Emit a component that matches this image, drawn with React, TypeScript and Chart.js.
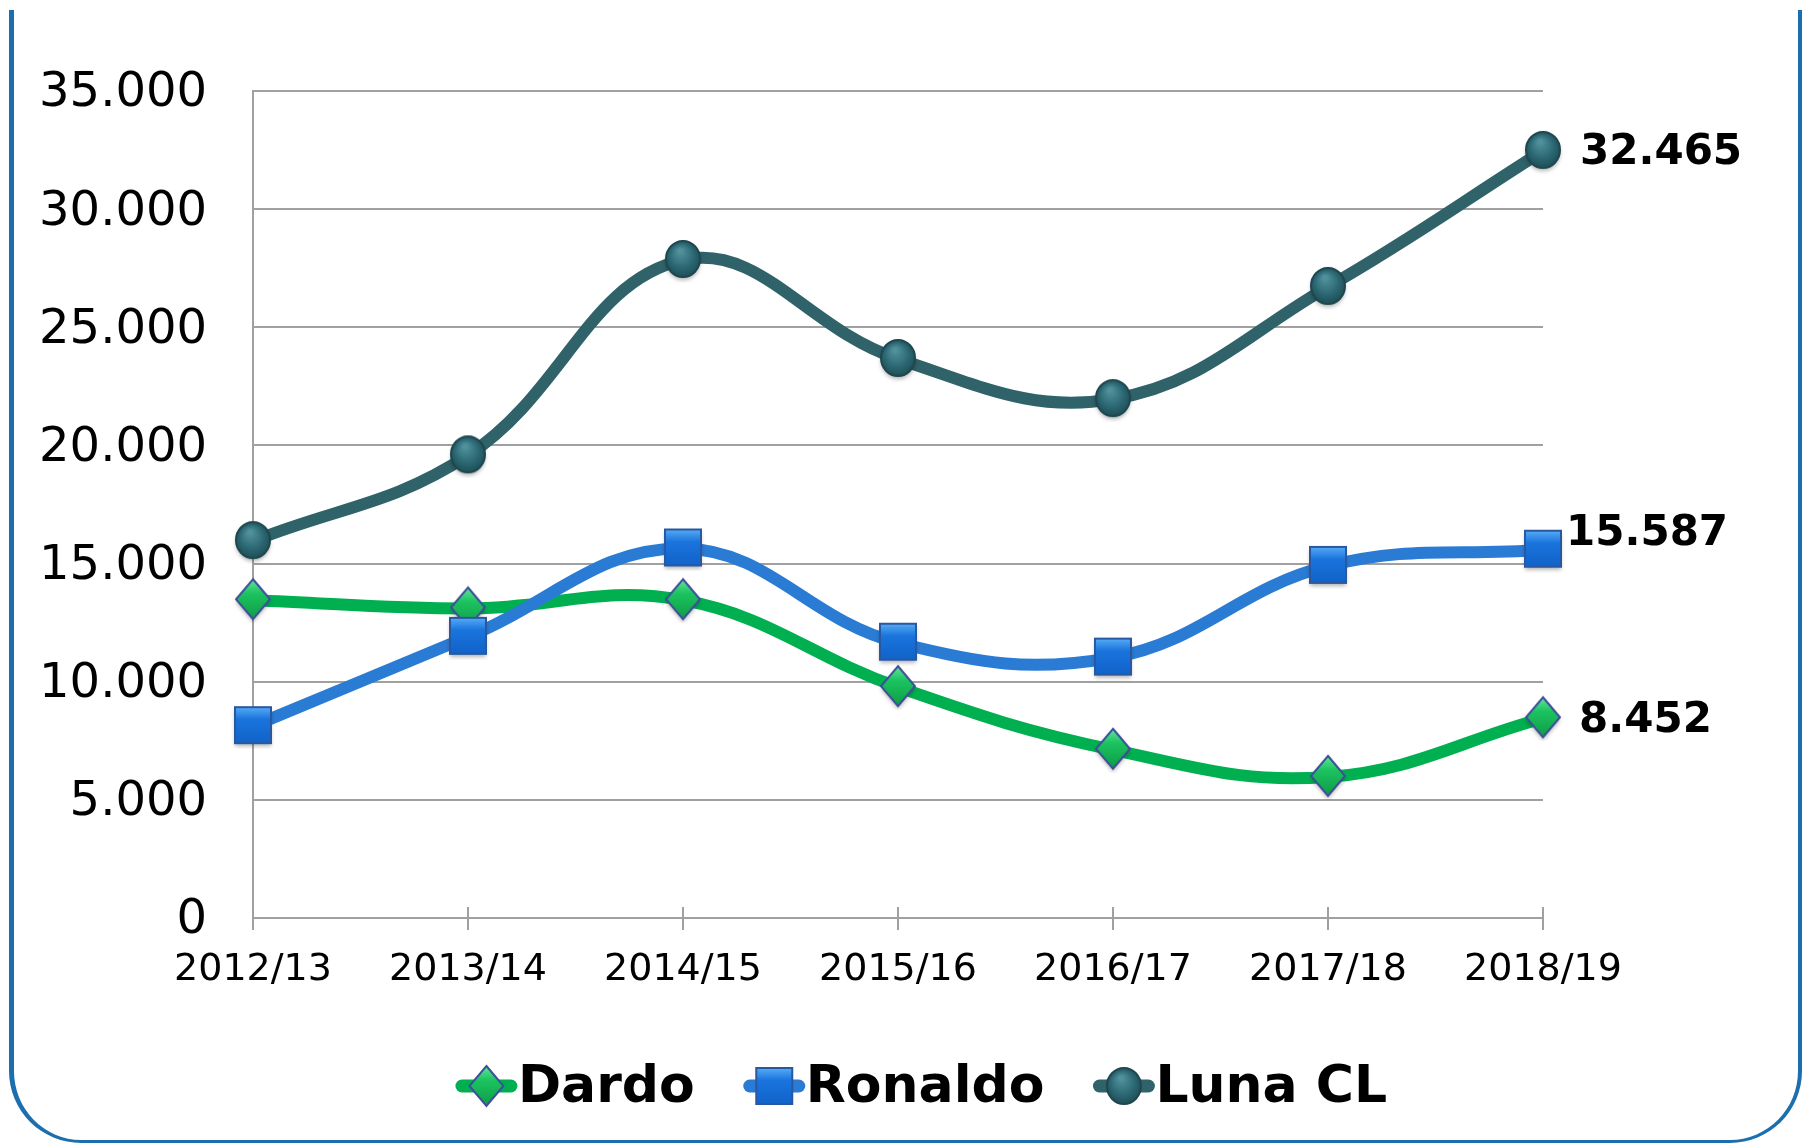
import React, { useEffect, useRef } from 'react';
import { Chart, registerables } from 'chart.js';

Chart.register(...registerables);

const categories = ['2012/13', '2013/14', '2014/15', '2015/16', '2016/17', '2017/18', '2018/19'];
const dardo = [13450, 13100, 13450, 9770, 7120, 5970, 8452];
const ronaldo = [8120, 11900, 15640, 11650, 11020, 14900, 15587];
const lunaCL = [15950, 19580, 27850, 23660, 21960, 26710, 32465];
const seriesNames = ['Dardo', 'Ronaldo', 'Luna CL'];
const yMin = 0;
const yMax = 35000;
const yStep = 5000;

const FONT = '"DejaVu Sans", Verdana, sans-serif';

const fmt = (v: number) => Math.round(v).toString().replace(/\B(?=(\d{3})+(?!\d))/g, '.');

const styles = [
  { line: '#00B050', top: '#5BE596', mid: '#1CC35F', bottom: '#0E9E48', border: '#3D4F9A', shape: 'diamond' },
  { line: '#2A7BD3', top: '#5AB0F7', mid: '#1A74DD', bottom: '#1062C8', border: '#2A58A0', shape: 'square' },
  { line: '#2F6269', top: '#4F909B', mid: '#2B6772', bottom: '#1E4C54', border: '#1F474F', shape: 'circle' },
];

function drawShape(ctx: CanvasRenderingContext2D, shape: string, x: number, y: number, s: any, shadow = true) {
  ctx.save();
  if (shape === 'circle') {
    const r = ctx.createRadialGradient(x - 3, y - 8, 2, x, y, 19);
    r.addColorStop(0, s.top);
    r.addColorStop(0.6, s.mid);
    r.addColorStop(1, s.bottom);
    ctx.fillStyle = r;
  } else {
    const g = ctx.createLinearGradient(x, y - 19, x, y + 19);
    g.addColorStop(0, s.top);
    g.addColorStop(0.35, s.mid);
    g.addColorStop(1, s.bottom);
    ctx.fillStyle = g;
  }
  ctx.strokeStyle = s.border;
  ctx.lineWidth = 2;
  if (shadow) {
    ctx.shadowColor = 'rgba(0,0,0,0.3)';
    ctx.shadowBlur = 4;
    ctx.shadowOffsetY = 3;
  }
  ctx.beginPath();
  if (shape === 'diamond') {
    ctx.moveTo(x, y - 20);
    ctx.lineTo(x + 17, y);
    ctx.lineTo(x, y + 20);
    ctx.lineTo(x - 17, y);
    ctx.closePath();
  } else if (shape === 'square') {
    ctx.rect(x - 18, y - 18, 36, 36);
  } else {
    ctx.ellipse(x, y, 17, 18, 0, 0, Math.PI * 2);
  }
  ctx.fill();
  ctx.shadowColor = 'transparent';
  ctx.stroke();
  ctx.restore();
}

const tickMarksPlugin = {
  id: 'tickMarks',
  beforeDatasetsDraw(chart: any) {
    const ctx = chart.ctx as CanvasRenderingContext2D;
    const xs = chart.scales.x;
    const ys = chart.scales.y;
    const y0 = ys.getPixelForValue(0);
    ctx.save();
    ctx.strokeStyle = '#A0A0A0';
    ctx.lineWidth = 2;
    categories.forEach((_, i) => {
      const x = xs.getPixelForValue(i);
      ctx.beginPath();
      ctx.moveTo(x, y0 - 11);
      ctx.lineTo(x, y0 + 12);
      ctx.stroke();
    });
    ctx.restore();
  },
};

const labelOffsets = [
  { dx: 36, dy: 3 },
  { dx: 23, dy: -16 },
  { dx: 37, dy: 2 },
];

const endLabelsPlugin = {
  id: 'endLabels',
  afterDatasetsDraw(chart: any) {
    const ctx = chart.ctx as CanvasRenderingContext2D;
    ctx.save();
    ctx.font = `bold 42px ${FONT}`;
    ctx.fillStyle = '#000';
    ctx.textAlign = 'left';
    ctx.textBaseline = 'middle';
    chart.data.datasets.forEach((ds: any, di: number) => {
      const meta = chart.getDatasetMeta(di);
      const last = meta.data[meta.data.length - 1];
      const v = ds.data[ds.data.length - 1];
      const o = labelOffsets[di];
      ctx.fillText(fmt(v), last.x + o.dx, last.y + o.dy);
    });
    ctx.restore();
  },
};

const legendPlugin = {
  id: 'customLegend',
  afterDraw(chart: any) {
    const ctx = chart.ctx as CanvasRenderingContext2D;
    ctx.save();
    ctx.font = `bold 52px ${FONT}`;
    ctx.textBaseline = 'middle';
    ctx.textAlign = 'left';
    const lineLen = 61;
    const gap = 50;
    const widths = seriesNames.map((n) => lineLen + ctx.measureText(n).width);
    const total = widths.reduce((a, b) => a + b, 0) + gap * (seriesNames.length - 1);
    let x = 921 - total / 2;
    const y = 1086;
    seriesNames.forEach((n, i) => {
      const s = styles[i];
      ctx.strokeStyle = s.line;
      ctx.lineWidth = 13;
      ctx.lineCap = 'round';
      ctx.beginPath();
      ctx.moveTo(x + 6, y);
      ctx.lineTo(x + lineLen - 6, y);
      ctx.stroke();
      drawShape(ctx, s.shape, x + lineLen / 2, y, s, false);
      ctx.fillStyle = '#000';
      ctx.fillText(n, x + lineLen + 1, y + 2);
      x += widths[i] + gap;
    });
    ctx.restore();
  },
};

function pointDrawer(s: any) {
  const c = document.createElement('canvas');
  c.width = 44;
  c.height = 46;
  const cx = c.getContext('2d')!;
  drawShape(cx, s.shape, 22, 22, s, true);
  return c;
}

export default function App() {
  const ref = useRef<HTMLCanvasElement>(null);

  useEffect(() => {
    const series = [dardo, ronaldo, lunaCL];
    const orders = [1, 0, 2];
    const chart = new Chart(ref.current!, {
      type: 'line',
      data: {
        labels: categories,
        datasets: series.map((d, i) => ({
          label: seriesNames[i],
          data: d,
          borderColor: styles[i].line,
          borderWidth: 12,
          tension: 0.4,
          fill: false,
          clip: false as any,
          order: orders[i],
          pointStyle: pointDrawer(styles[i]) as any,
          pointRadius: 18,
          pointHoverRadius: 18,
        })),
      },
      options: {
        responsive: false,
        animation: false,
        devicePixelRatio: 1,
        layout: { padding: { top: 91, right: 259, bottom: 0, left: 0 } },
        plugins: {
          legend: { display: false },
          tooltip: { enabled: false },
        },
        scales: {
          x: {
            offset: false,
            grid: { display: false },
            border: { display: true, color: '#A0A0A0', width: 2 },
            ticks: {
              color: '#000',
              font: { family: FONT, size: 38 },
              padding: 21,
              maxRotation: 0,
              autoSkip: false,
            },
            afterFit: (s: any) => {
              s.height = 226;
            },
          },
          y: {
            min: yMin,
            max: yMax,
            grid: { color: '#A0A0A0', lineWidth: 2, drawTicks: false },
            border: { display: true, color: '#A0A0A0', width: 2 },
            ticks: {
              stepSize: yStep,
              color: '#000',
              font: { family: FONT, size: 48 },
              padding: 46,
              labelOffset: 3,
              callback: (v: any) => fmt(Number(v)),
            },
            afterFit: (s: any) => {
              s.width = 253;
            },
          },
        },
      },
      plugins: [tickMarksPlugin, endLabelsPlugin, legendPlugin],
    });
    return () => chart.destroy();
  }, []);

  return (
    <div style={{ position: 'fixed', left: 0, top: 0, width: 1802, height: 1144, background: '#fff', overflow: 'hidden' }}>
      <div style={{ position: 'absolute', left: 0, top: 10, width: 1802, height: 1134, overflow: 'hidden' }}>
        <div
          style={{
            position: 'absolute',
            left: 9,
            top: -110,
            width: 1793,
            height: 1243,
            boxSizing: 'border-box',
            borderStyle: 'solid',
            borderColor: '#1C6FAE',
            borderWidth: '4px 4px 3px 5px',
            borderRadius: 72,
          }}
        />
      </div>
      <canvas ref={ref} width={1802} height={1144} style={{ position: 'absolute', left: 0, top: 0, width: 1802, height: 1144 }} />
    </div>
  );
}
